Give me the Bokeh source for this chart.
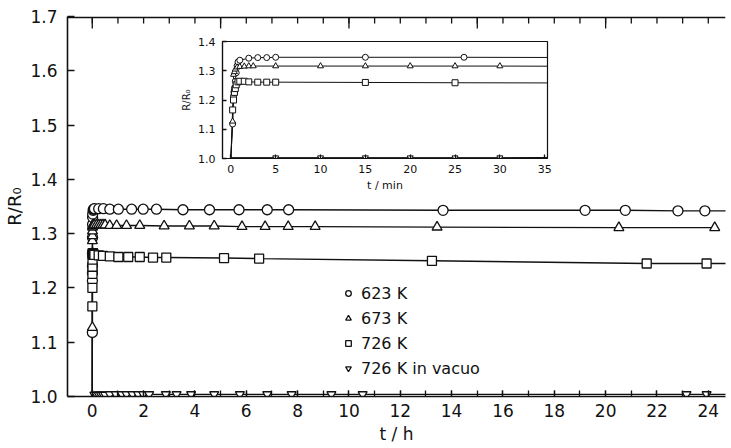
from bokeh.plotting import figure
from bokeh.models import Range1d, LinearAxis, FixedTicker, Legend, LegendItem
from bokeh.layouts import column
from bokeh.embed import file_html
from bokeh.resources import INLINE

# ---------------- data (time in minutes, R/R0) ----------------
t_623 = [0, 0.2, 0.3, 0.35, 0.4, 0.5, 0.6, 0.7, 0.8, 1, 2, 3, 4, 5, 15, 26, 41, 61, 92, 119,
         150, 212, 274, 343, 409, 459, 820, 1152, 1246, 1369, 1432, 1500]
r_623 = [1.000, 1.118, 1.213, 1.227, 1.240, 1.264, 1.293, 1.317, 1.330, 1.336, 1.343, 1.345,
         1.345, 1.346, 1.346, 1.346, 1.345, 1.345, 1.345, 1.345, 1.345, 1.344, 1.344, 1.344,
         1.344, 1.344, 1.343, 1.343, 1.343, 1.342, 1.342, 1.342]

t_673 = [0, 0.2, 0.3, 0.4, 0.5, 0.7, 1, 1.5, 2, 2.5, 5, 10, 15, 20, 25, 30, 41, 57, 80, 111,
         168, 227, 285, 350, 404, 458, 521, 806, 1231, 1455]
r_673 = [1.000, 1.127, 1.287, 1.296, 1.305, 1.312, 1.314, 1.315, 1.316, 1.316, 1.316, 1.316,
         1.316, 1.316, 1.316, 1.316, 1.315, 1.315, 1.315, 1.315, 1.314, 1.314, 1.314, 1.313,
         1.313, 1.313, 1.313, 1.312, 1.311, 1.311]

t_726 = [0, 0.2, 0.3, 0.4, 0.5, 0.6, 0.8, 1, 1.5, 2, 3, 4, 5, 15, 25, 41, 61, 84, 111, 142,
         173, 308, 390, 794, 1296, 1436, 1500]
r_726 = [1.000, 1.166, 1.200, 1.226, 1.239, 1.252, 1.262, 1.264, 1.264, 1.262, 1.261, 1.261,
         1.261, 1.260, 1.259, 1.258, 1.257, 1.257, 1.257, 1.256, 1.256, 1.255, 1.254, 1.250,
         1.245, 1.245, 1.245]

t_vac = [0, 5, 10, 15, 20, 25, 30, 41, 55, 69, 80, 94, 107, 119, 133, 172, 197, 231, 285,
         345, 409, 466, 559, 632, 1389, 1436, 1500]
r_vac = [1.003, 1.003, 1.003, 1.003, 1.003, 1.003, 1.003, 1.004, 1.004, 1.004, 1.004, 1.004,
         1.004, 1.004, 1.004, 1.004, 1.004, 1.004, 1.004, 1.004, 1.004, 1.004, 1.004, 1.004,
         1.004, 1.004, 1.004]

series_labels = ["623 K", "673 K", "726 K", "726 K in vacuo"]
series_markers = ["circle", "triangle", "square", "inverted_triangle"]

x_ticks = [0, 2, 4, 6, 8, 10, 12, 14, 16, 18, 20, 22, 24]
x_minor = list(range(0, 25))
x_top_major = [0, 5, 10, 15, 20]
y_ticks = [1.0, 1.1, 1.2, 1.3, 1.4, 1.5, 1.6, 1.7]
y_tick_labels = ["1.0", "1.1", "1.2", "1.3", "1.4", "1.5", "1.6", "1.7"]

ins_x_ticks = [0, 5, 10, 15, 20, 25, 30, 35]
ins_y_ticks = [1.0, 1.1, 1.2, 1.3, 1.4]
ins_y_tick_labels = ["1.0", "1.1", "1.2", "1.3", "1.4"]

FONT = "DejaVu Sans"
INK = "#111111"

series = [(t_623, r_623), (t_673, r_673), (t_726, r_726), (t_vac, r_vac)]

# ---------------- main figure ----------------
X0, X1 = -0.965, 24.67
Y0, Y1 = 1.0, 1.7
FRAME_H = 380  # px (448 - 16 top - 52 bottom)
p = figure(width=731, height=448, x_range=Range1d(X0, X1), y_range=Range1d(Y0, Y1),
           output_backend="svg", toolbar_location=None, title_location=None,
           x_axis_location=None, y_axis_location=None,
           min_border_left=67, min_border_right=0, min_border_top=16, min_border_bottom=52)
p.outline_line_color = None
p.xgrid.visible = False
p.ygrid.visible = False

def style_axis(ax, size):
    ax.axis_line_color = INK
    ax.axis_line_width = 1.6
    ax.major_tick_line_color = INK
    ax.minor_tick_line_color = INK
    ax.major_tick_line_width = 1.3
    ax.minor_tick_line_width = 1.3
    ax.major_tick_out = 0
    ax.minor_tick_out = 0
    ax.major_label_text_font = FONT
    ax.major_label_text_font_size = size
    ax.major_label_text_color = INK
    ax.axis_label_text_font = FONT
    ax.axis_label_text_font_style = "normal"
    ax.axis_label_text_color = INK

xb = LinearAxis(ticker=FixedTicker(ticks=x_ticks, minor_ticks=x_minor))
style_axis(xb, "17px")
xb.major_tick_in = 6
xb.minor_tick_in = 6
xb.major_label_standoff = 7
xb.axis_label = "t / h"
xb.axis_label_text_font_size = "17px"
xb.axis_label_standoff = 4
p.add_layout(xb, "below")

yl = LinearAxis(ticker=FixedTicker(ticks=y_ticks, minor_ticks=[]))
style_axis(yl, "17px")
yl.major_tick_in = 7
yl.minor_tick_in = 0
yl.major_label_standoff = 10
yl.major_label_overrides = dict(zip(y_ticks, y_tick_labels))
yl.axis_label = "R/R\u2080"
yl.axis_label_text_font_size = "18px"
yl.axis_label_standoff = 2
p.add_layout(yl, "left")

# top frame edge with inward hour ticks (longer every 5 h), kept just inside the frame
px = (Y1 - Y0) / FRAME_H
edge = Y1 - 0.9 * px
p.segment(x0=[X0], y0=[edge], x1=[X1], y1=[edge], line_color=INK, line_width=1.6)
p.segment(x0=x_minor, y0=[edge] * len(x_minor), x1=x_minor,
          y1=[Y1 - 7 * px] * len(x_minor), line_color=INK, line_width=1.3)
p.segment(x0=x_top_major, y0=[edge] * len(x_top_major), x1=x_top_major,
          y1=[Y1 - 12 * px] * len(x_top_major), line_color=INK, line_width=1.3)

main_sizes = [10, 10, 9, 9]
legend_items = []
for (t, r) in series:
    th = [v / 60 for v in t]
    p.line(th, r, line_color=INK, line_width=1.4)
for (t, r), mk, lab, sz in zip(series, series_markers, series_labels, main_sizes):
    th = [v / 60 for v in t]
    rr = p.scatter(th[1:], r[1:], marker=mk, size=sz, line_color=INK, line_width=1.3,
                   fill_color="white")
    legend_items.append(LegendItem(label=lab, renderers=[rr]))

leg = Legend(items=legend_items, location=(274, 18), orientation="vertical",
             label_text_font=FONT, label_text_font_size="16px", label_text_color=INK,
             glyph_width=14, glyph_height=20, label_height=20, spacing=5, label_standoff=6,
             padding=0, margin=0, border_line_color=None, background_fill_alpha=0)
p.add_layout(leg, "center")

# ---------------- inset figure ----------------
ins = figure(width=398, height=158, x_range=Range1d(-0.93, 35.31), y_range=Range1d(1.0, 1.4),
             output_backend="svg", toolbar_location=None, title_location=None,
             x_axis_location=None, y_axis_location=None,
             min_border_left=42, min_border_right=6, min_border_top=5, min_border_bottom=36)
ins.background_fill_alpha = 0
ins.border_fill_alpha = 0
ins.outline_line_color = INK
ins.outline_line_width = 1.2
ins.xgrid.visible = False
ins.ygrid.visible = False

ixb = LinearAxis(ticker=FixedTicker(ticks=ins_x_ticks, minor_ticks=[]))
style_axis(ixb, "11px")
ixb.axis_line_width = 1.2
ixb.major_tick_in = 4
ixb.major_label_standoff = 6
ixb.axis_label = "t / min"
ixb.axis_label_text_font_size = "11px"
ixb.axis_label_standoff = 3
ins.add_layout(ixb, "below")

iyl = LinearAxis(ticker=FixedTicker(ticks=ins_y_ticks, minor_ticks=[]))
style_axis(iyl, "11px")
iyl.axis_line_width = 1.2
iyl.major_tick_in = 4
iyl.major_label_standoff = 7
iyl.major_label_overrides = dict(zip(ins_y_ticks, ins_y_tick_labels))
iyl.axis_label = "R/R\u2080"
iyl.axis_label_text_font_size = "10px"
iyl.axis_label_standoff = 3
ins.add_layout(iyl, "left")

for (t, r) in series:
    ins.line(t, r, line_color=INK, line_width=1.0)
for (t, r), mk in zip(series, series_markers):
    ins.scatter(t[1:], r[1:], marker=mk, size=6, line_color=INK, line_width=1.0,
                fill_color="white")

ins.styles = {"position": "absolute", "left": "155px", "top": "36px"}

root = column(p, ins)
open("out.html", "w").write(file_html(root, INLINE))
